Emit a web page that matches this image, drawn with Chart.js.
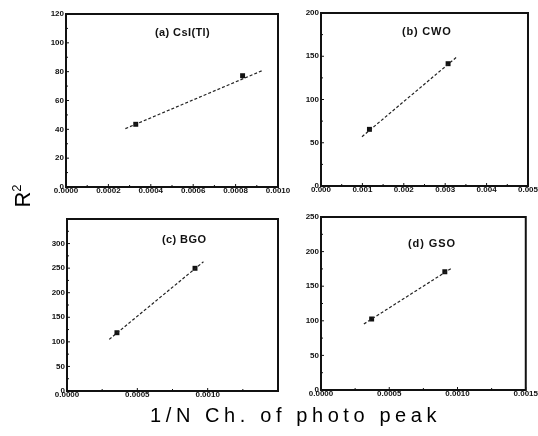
<!DOCTYPE html>
<html><head><meta charset="utf-8">
<script src="https://cdn.jsdelivr.net/npm/chart.js@4.4.1/dist/chart.umd.min.js"></script>
<style>
html,body{margin:0;padding:0;background:#fff;}
#wrap{position:relative;width:538px;height:436px;overflow:hidden;background:#fff;}
canvas{position:absolute;left:0;top:0;}
.ttl{position:absolute;font-family:"Liberation Sans",Arial,sans-serif;font-weight:bold;font-size:11px;color:#111;white-space:nowrap;letter-spacing:0.4px;}
#ytitle{position:absolute;left:3px;top:181px;width:40px;height:30px;line-height:30px;text-align:center;font-family:"Liberation Sans",Arial,sans-serif;font-size:22px;color:#000;transform:rotate(-90deg);}
#ytitle sup{font-size:13px;vertical-align:9px;line-height:0;}
#xtitle{position:absolute;left:150px;top:404px;font-family:"Liberation Sans",Arial,sans-serif;font-size:20px;color:#000;letter-spacing:4.6px;white-space:nowrap;}
</style></head>
<body>
<div id="wrap">
<canvas id="ca" width="538" height="436"></canvas>
<canvas id="cb" width="538" height="436"></canvas>
<canvas id="cc" width="538" height="436"></canvas>
<canvas id="cd" width="538" height="436"></canvas>
<div class="ttl" style="left:155px;top:26px;">(a) CsI(Tl)</div>
<div class="ttl" style="left:402px;top:25px;letter-spacing:0.8px;">(b) CWO</div>
<div class="ttl" style="left:162px;top:233px;">(c) BGO</div>
<div class="ttl" style="left:408px;top:237px;letter-spacing:0.9px;">(d) GSO</div>
<div id="ytitle">R<sup>2</sup></div>
<div id="xtitle">1/N Ch. of photo peak</div>
</div>
<script>
// ---- Data ----
const csiPointsX = [0.000329, 0.000833];
const csiPointsY = [43.5, 77.2];
const csiFitX = [0.00028, 0.00093];
const csiFitY = [40.5, 81];

const cwoPointsX = [0.00117, 0.00307];
const cwoPointsY = [65.5, 141.4];
const cwoFitX = [0.00099, 0.00327];
const cwoFitY = [57, 148.8];

const bgoPointsX = [0.000355, 0.00091];
const bgoPointsY = [118.6, 249.7];
const bgoFitX = [0.0003, 0.00097];
const bgoFitY = [105, 263];

const gsoPointsX = [0.000371, 0.000907];
const gsoPointsY = [102.6, 171];
const gsoFitX = [0.000314, 0.000962];
const gsoFitY = [95.4, 176.7];

// ---- Tick values and labels ----
const csiXTicks = [0, 0.0002, 0.0004, 0.0006, 0.0008, 0.0010];
const csiXLabels = ['0.0000','0.0002','0.0004','0.0006','0.0008','0.0010'];
const csiYTicks = [0, 20, 40, 60, 80, 100, 120];
const csiYLabels = ['0','20','40','60','80','100','120'];

const cwoXTicks = [0, 0.001, 0.002, 0.003, 0.004, 0.005];
const cwoXLabels = ['0.000','0.001','0.002','0.003','0.004','0.005'];
const cwoYTicks = [0, 50, 100, 150, 200];
const cwoYLabels = ['0','50','100','150','200'];

const bgoXTicks = [0, 0.0005, 0.0010];
const bgoXLabels = ['0.0000','0.0005','0.0010'];
const bgoYTicks = [0, 50, 100, 150, 200, 250, 300];
const bgoYLabels = ['0','50','100','150','200','250','300'];

const gsoXTicks = [0, 0.0005, 0.0010, 0.0015];
const gsoXLabels = ['0.0000','0.0005','0.0010','0.0015'];
const gsoYTicks = [0, 50, 100, 150, 200, 250];
const gsoYLabels = ['0','50','100','150','200','250'];

const toPts = (xs, ys) => xs.map((x, i) => ({x: x, y: ys[i]}));

const framePlugin = {
  id: 'frame',
  afterDraw(chart) {
    const ctx = chart.ctx, a = chart.chartArea, xs = chart.scales.x, ys = chart.scales.y;
    ctx.save();
    ctx.strokeStyle = '#111';
    ctx.lineWidth = 2;
    ctx.strokeRect(a.left, a.top, a.right - a.left, a.bottom - a.top);
    ctx.lineWidth = 1;
    ctx.beginPath();
    const xt = xs.ticks.map(t => t.value);
    xt.forEach((v, i) => {
      const p = xs.getPixelForValue(v);
      ctx.moveTo(p, a.bottom); ctx.lineTo(p, a.bottom - 3);
      const step = i > 0 ? v - xt[i-1] : (xt[1] - xt[0]);
      const m = xs.getPixelForValue(v + step / 2);
      if (m < a.right - 1) { ctx.moveTo(m, a.bottom); ctx.lineTo(m, a.bottom - 2); }
    });
    const yt = ys.ticks.map(t => t.value);
    yt.forEach((v, i) => {
      const p = ys.getPixelForValue(v);
      ctx.moveTo(a.left, p); ctx.lineTo(a.left + 3, p);
      const step = i > 0 ? v - yt[i-1] : (yt[1] - yt[0]);
      const m = ys.getPixelForValue(v + step / 2);
      if (m > a.top + 1) { ctx.moveTo(a.left, m); ctx.lineTo(a.left + 2, m); }
    });
    ctx.stroke();
    ctx.restore();
  }
};

const tickFont = {family: '"Liberation Sans", Arial, sans-serif', size: 8, weight: 'bold', lineHeight: 1};

function makePanel(id, box, xMax, yMax, xT, xL, yT, yL, px, py, fx, fy) {
  new Chart(document.getElementById(id), {
    type: 'scatter',
    data: {
      datasets: [
        {data: toPts(fx, fy), showLine: true, borderColor: '#222', borderWidth: 1.2,
         borderDash: [3, 2], pointRadius: 0, fill: false},
        {data: toPts(px, py), showLine: false, pointStyle: 'rect', pointRadius: 3.5,
         backgroundColor: '#111', borderColor: '#111', borderWidth: 0}
      ]
    },
    options: {
      responsive: false,
      animation: false,
      devicePixelRatio: 1,
      layout: {padding: {left: box.left - 30, top: box.top, right: 538 - box.right, bottom: 436 - box.bottom - 12}},
      plugins: {legend: {display: false}, tooltip: {enabled: false}, title: {display: false}},
      scales: {
        x: {
          type: 'linear', min: 0, max: xMax,
          grid: {display: false, drawTicks: false}, border: {display: false},
          afterBuildTicks: s => { s.ticks = xT.map(v => ({value: v})); },
          afterFit: s => { s.height = 12; },
          ticks: {font: tickFont, color: '#111', padding: 0, maxRotation: 0, autoSkip: false,
                  callback: (v, i) => xL[i]}
        },
        y: {
          type: 'linear', min: 0, max: yMax,
          grid: {display: false, drawTicks: false}, border: {display: false},
          afterBuildTicks: s => { s.ticks = yT.map(v => ({value: v})); },
          afterFit: s => { s.width = 30; },
          ticks: {font: tickFont, color: '#111', padding: 2, autoSkip: false,
                  callback: (v, i) => yL[i]}
        }
      }
    },
    plugins: [framePlugin]
  });
}

makePanel('ca', {left: 66, top: 14, right: 278, bottom: 187}, 0.001, 120,
  csiXTicks, csiXLabels, csiYTicks, csiYLabels, csiPointsX, csiPointsY, csiFitX, csiFitY);
makePanel('cb', {left: 321, top: 13, right: 531, bottom: 186}, 0.005, 200,
  cwoXTicks, cwoXLabels, cwoYTicks, cwoYLabels, cwoPointsX, cwoPointsY, cwoFitX, cwoFitY);
makePanel('cc', {left: 67, top: 219, right: 278, bottom: 391}, 0.0015, 350,
  bgoXTicks, bgoXLabels, bgoYTicks, bgoYLabels, bgoPointsX, bgoPointsY, bgoFitX, bgoFitY);
makePanel('cd', {left: 321, top: 217, right: 531, bottom: 390}, 0.0015, 250,
  gsoXTicks, gsoXLabels, gsoYTicks, gsoYLabels, gsoPointsX, gsoPointsY, gsoFitX, gsoFitY);
</script>
</body></html>
